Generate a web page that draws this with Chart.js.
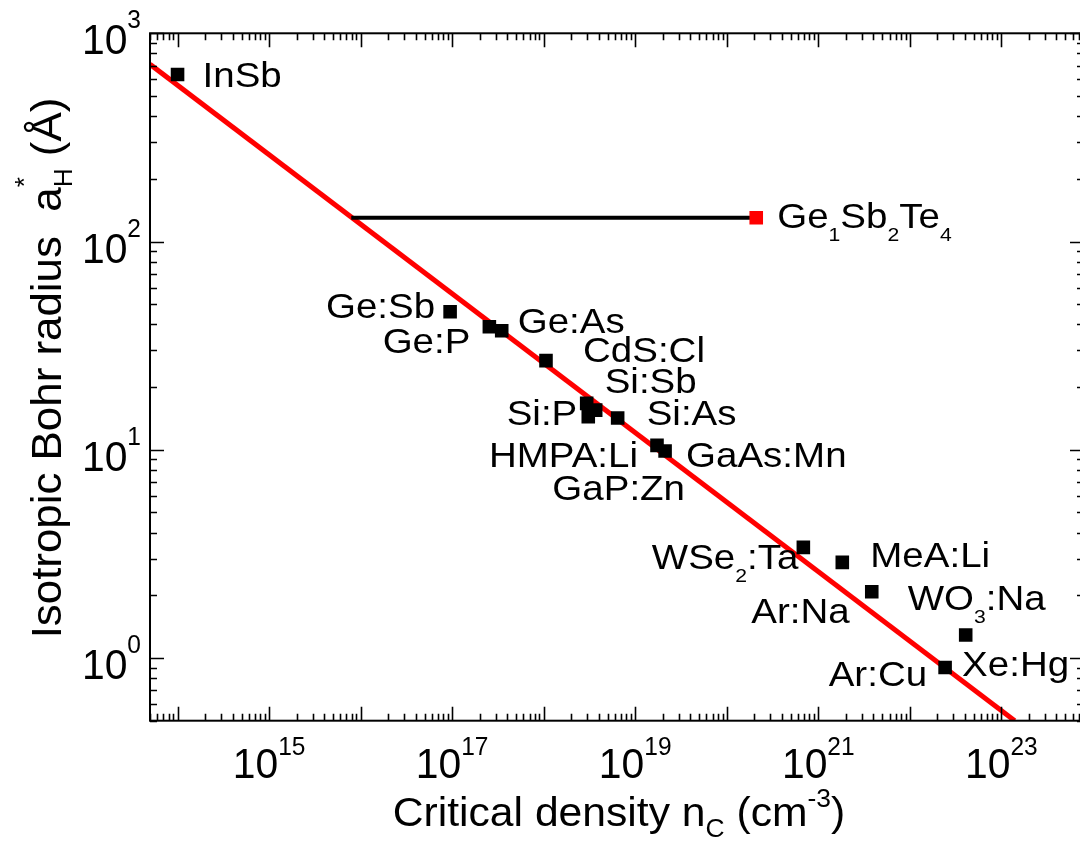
<!DOCTYPE html>
<html>
<head>
<meta charset="utf-8">
<style>
  html, body { margin: 0; padding: 0; background: #fff; overflow: hidden; width: 1080px; height: 843px; }
  #wrap { position: absolute; left: 0; top: 0; width: 1100px; height: 843px; }
</style>
<script src="https://cdn.jsdelivr.net/npm/chart.js@4/dist/chart.umd.min.js"></script>
</head>
<body>
<div id="wrap"><canvas id="c" width="1100" height="843"></canvas></div>
<script>
// Critical density n_c (cm^-3) and effective Bohr radius a_H* (Å) of doped systems
const materials = ['InSb', 'Ge:Sb', 'Ge:P', 'Ge:As', 'CdS:Cl', 'Si:Sb', 'Si:P', 'Si:P\u2032', 'Si:As',
                   'HMPA:Li', 'GaAs:Mn', 'WSe2:Ta', 'MeA:Li', 'Ar:Na', 'WO3:Na', 'Ar:Cu'];
const criticalDensity = [1.0e14, 9.5e16, 2.55e17, 3.48e17, 1.06e18, 2.95e18, 3.07e18, 3.70e18, 6.43e18,
                         1.73e19, 2.12e19, 6.87e20, 1.83e21, 3.84e21, 4.08e22, 2.43e22];
const bohrRadius = [634, 46.0, 39.0, 37.3, 26.8, 16.7, 14.4, 15.5, 14.2,
                    10.5, 9.86, 3.40, 2.88, 2.08, 1.29, 0.90];

// Ge1Sb2Te4
const gstDensity = [2.10e20];
const gstRadius = [130];

// Mott criterion line n_c^(1/3) a_H* = 0.26 (end points)
const mottDensity = [5e13, 1.4e23];
const mottRadius = [710, 0.5];

// horizontal guide from the Mott line to Ge1Sb2Te4
const guideDensity = [7.9e15, 2.10e20];
const guideRadius = [130, 130];

// axis tick labels (powers of ten)
const xTickExponents = [15, 17, 19, 21, 23];
const yTickExponents = [0, 1, 2, 3];

// label text: index of the mark it belongs to, offset from it, alignment
const labelText = ['InSb', 'Ge:Sb', 'Ge:P', 'Ge:As', 'CdS:Cl', 'Si:Sb', 'Si:P', 'Si:As', 'HMPA:Li',
                   'GaAs:Mn', 'GaP:Zn', 'WSe_{2}:Ta', 'MeA:Li', 'Ar:Na', 'WO_{3}:Na', 'Ar:Cu', 'Xe:Hg'];
const labelMark = [0, 1, 2, 3, 4, 5, 6, 8, 9, 10, 9, 11, 12, 13, 14, 15, 15];
const labelLayout = [
  [25, 12.5, 'left'], [-15, 6, 'right'], [-19, 26, 'right'], [16, 2, 'left'], [37, 1, 'left'],
  [18, -10, 'left'], [-11, 8, 'right'], [29, 7, 'left'], [-19, 22, 'right'], [21, 16, 'left'],
  [28, 55, 'right'], [-5, 22, 'right'], [28, 5, 'left'], [-22, 31, 'right'], [-58, -25, 'left'],
  [-18, 18, 'right'], [17, 8, 'left']
];
const gstLabel = 'Ge_{1}Sb_{2}Te_{4}';

const FONT = '"Liberation Sans", Arial, Helvetica, sans-serif';

function toXY(xs, ys) { return xs.map((x, i) => ({ x: x, y: ys[i] })); }

// lay out text with _{sub} and ^{sup} parts; a sub right after a sup stacks on it
function layoutRich(ctx, str, size, scriptScale) {
  const parts = str.split(/(_\{[^}]*\}|\^\{[^}]*\})/).filter(s => s.length);
  let x = 0, prev = null, prevStart = 0, prevW = 0;
  const items = [];
  parts.forEach(p => {
    let kind = 'n', t = p;
    if (p.startsWith('_{')) { kind = 'sub'; t = p.slice(2, -1); }
    else if (p.startsWith('^{')) { kind = 'sup'; t = p.slice(2, -1); }
    const fs = kind === 'n' ? size : size * scriptScale;
    ctx.font = fs + 'px ' + FONT;
    const w = ctx.measureText(t).width;
    let start = x;
    if ((kind === 'sub' && prev === 'sup') || (kind === 'sup' && prev === 'sub')) {
      start = prevStart; x = prevStart + Math.max(prevW, w);
    } else {
      x += w;
    }
    items.push({ t, kind, fs, x: start });
    prev = kind; prevStart = start; prevW = w;
  });
  return { items, width: x };
}

function drawRich(ctx, str, opt) {
  const o = Object.assign({ size: 35, scriptScale: 0.55, subDy: 13, supDy: -18, sx: 1, align: 'left', rotate: 0 }, opt);
  const lay = layoutRich(ctx, str, o.size, o.scriptScale);
  const w = lay.width * o.sx;
  let x0 = 0;
  if (o.align === 'right') x0 = -w; else if (o.align === 'center') x0 = -w / 2;
  ctx.save();
  ctx.translate(o.x, o.y);
  if (o.rotate) ctx.rotate(o.rotate);
  ctx.translate(x0, 0);
  ctx.scale(o.sx, 1);
  ctx.fillStyle = '#000';
  ctx.textBaseline = 'alphabetic';
  ctx.textAlign = 'left';
  lay.items.forEach(it => {
    ctx.font = it.fs + 'px ' + FONT;
    const dy = it.kind === 'sub' ? o.subDy : it.kind === 'sup' ? o.supDy : 0;
    ctx.fillText(it.t, it.x, dy);
  });
  ctx.restore();
}

// frame, inward ticks on all four sides, tick labels, titles and mark labels
const decorations = {
  id: 'decorations',
  afterDraw(chart) {
    const ctx = chart.ctx;
    const a = chart.chartArea;
    const xs = chart.scales.x, ys = chart.scales.y;
    ctx.save();
    ctx.strokeStyle = '#000';
    ctx.lineWidth = 2;
    ctx.strokeRect(a.left, a.top, a.right - a.left, a.bottom - a.top);

    const majorLen = 14, minorLen = 7;
    ctx.lineWidth = 1.6;
    ctx.beginPath();
    const logTicks = (min, max) => {
      const out = [];
      for (let d = Math.floor(Math.log10(min)); d <= Math.ceil(Math.log10(max)); d++) {
        for (let m = 1; m <= 9; m++) {
          const v = m * Math.pow(10, d);
          if (v >= min * 0.9999 && v <= max * 1.0001) out.push({ v, major: m === 1 });
        }
      }
      return out;
    };
    logTicks(xs.min, xs.max).forEach(t => {
      const px = Math.round(xs.getPixelForValue(t.v)) + 0.5;
      const L = t.major ? majorLen : minorLen;
      ctx.moveTo(px, a.bottom); ctx.lineTo(px, a.bottom - L);
      ctx.moveTo(px, a.top); ctx.lineTo(px, a.top + L);
    });
    logTicks(ys.min, ys.max).forEach(t => {
      const py = Math.round(ys.getPixelForValue(t.v)) + 0.5;
      const L = t.major ? majorLen : minorLen;
      ctx.moveTo(a.left, py); ctx.lineTo(a.left + L, py);
      ctx.moveTo(a.right, py); ctx.lineTo(a.right - L, py);
    });
    ctx.stroke();

    // tick labels 10^n
    xTickExponents.forEach(e => {
      const px = xs.getPixelForValue(Math.pow(10, e));
      drawRich(ctx, '10^{' + e + '}', { x: px, y: 778, size: 43, scriptScale: 0.6, supDy: -23, sx: 0.95, align: 'center' });
    });
    yTickExponents.forEach(e => {
      const py = ys.getPixelForValue(Math.pow(10, e));
      drawRich(ctx, '10^{' + e + '}', { x: 141, y: py + 21, size: 43, scriptScale: 0.6, supDy: -26, sx: 0.95, align: 'right' });
    });

    // axis titles
    drawRich(ctx, 'Critical density n_{C} (cm^{-3})', { x: 619, y: 826, size: 41, scriptScale: 0.62, subDy: 11, supDy: -19, sx: 1.04, align: 'center' });
    drawRich(ctx, 'Isotropic Bohr radius  a^{*}_{H} (\u00C5)', { x: 61, y: 368, size: 43, scriptScale: 0.6, subDy: 11, supDy: -28, sx: 1.02, align: 'center', rotate: -Math.PI / 2 });

    // mark labels
    labelText.forEach((t, i) => {
      const k = labelMark[i];
      const px = xs.getPixelForValue(criticalDensity[k]);
      const py = ys.getPixelForValue(bohrRadius[k]);
      const [dx, dy, align] = labelLayout[i];
      drawRich(ctx, t, { x: px + dx, y: py + dy, size: 35, sx: 1.1, align });
    });
    const gx = xs.getPixelForValue(gstDensity[0]), gy = ys.getPixelForValue(gstRadius[0]);
    drawRich(ctx, gstLabel, { x: gx + 21, y: gy + 10, size: 35, sx: 1.1, align: 'left' });
    ctx.restore();
  }
};

new Chart(document.getElementById('c'), {
  type: 'scatter',
  data: {
    datasets: [
      {
        data: toXY(criticalDensity, bohrRadius),
        pointStyle: 'rect', pointRadius: 9.6, pointBorderWidth: 0,
        backgroundColor: '#000', borderColor: '#000', showLine: false
      },
      {
        data: toXY(gstDensity, gstRadius),
        pointStyle: 'rect', pointRadius: 9.6, pointBorderWidth: 0,
        backgroundColor: '#ff0000', borderColor: '#ff0000', showLine: false
      },
      {
        data: toXY(guideDensity, guideRadius),
        showLine: true, borderColor: '#000', borderWidth: 4, pointRadius: 0, fill: false
      },
      {
        data: toXY(mottDensity, mottRadius),
        showLine: true, borderColor: '#ff0000', borderWidth: 5, pointRadius: 0, fill: false
      }
    ]
  },
  options: {
    responsive: false,
    animation: false,
    layout: { padding: { left: 150, top: 33.3, right: 16, bottom: 122.3 } },
    plugins: { legend: { display: false }, tooltip: { enabled: false } },
    scales: {
      x: {
        type: 'logarithmic', min: 5e13, max: 8e23,
        grid: { display: false, drawTicks: false }, border: { display: false },
        ticks: { display: false }
      },
      y: {
        type: 'logarithmic', min: 0.5, max: 1000,
        grid: { display: false, drawTicks: false }, border: { display: false },
        ticks: { display: false }
      }
    }
  },
  plugins: [decorations]
});
</script>
</body>
</html>
